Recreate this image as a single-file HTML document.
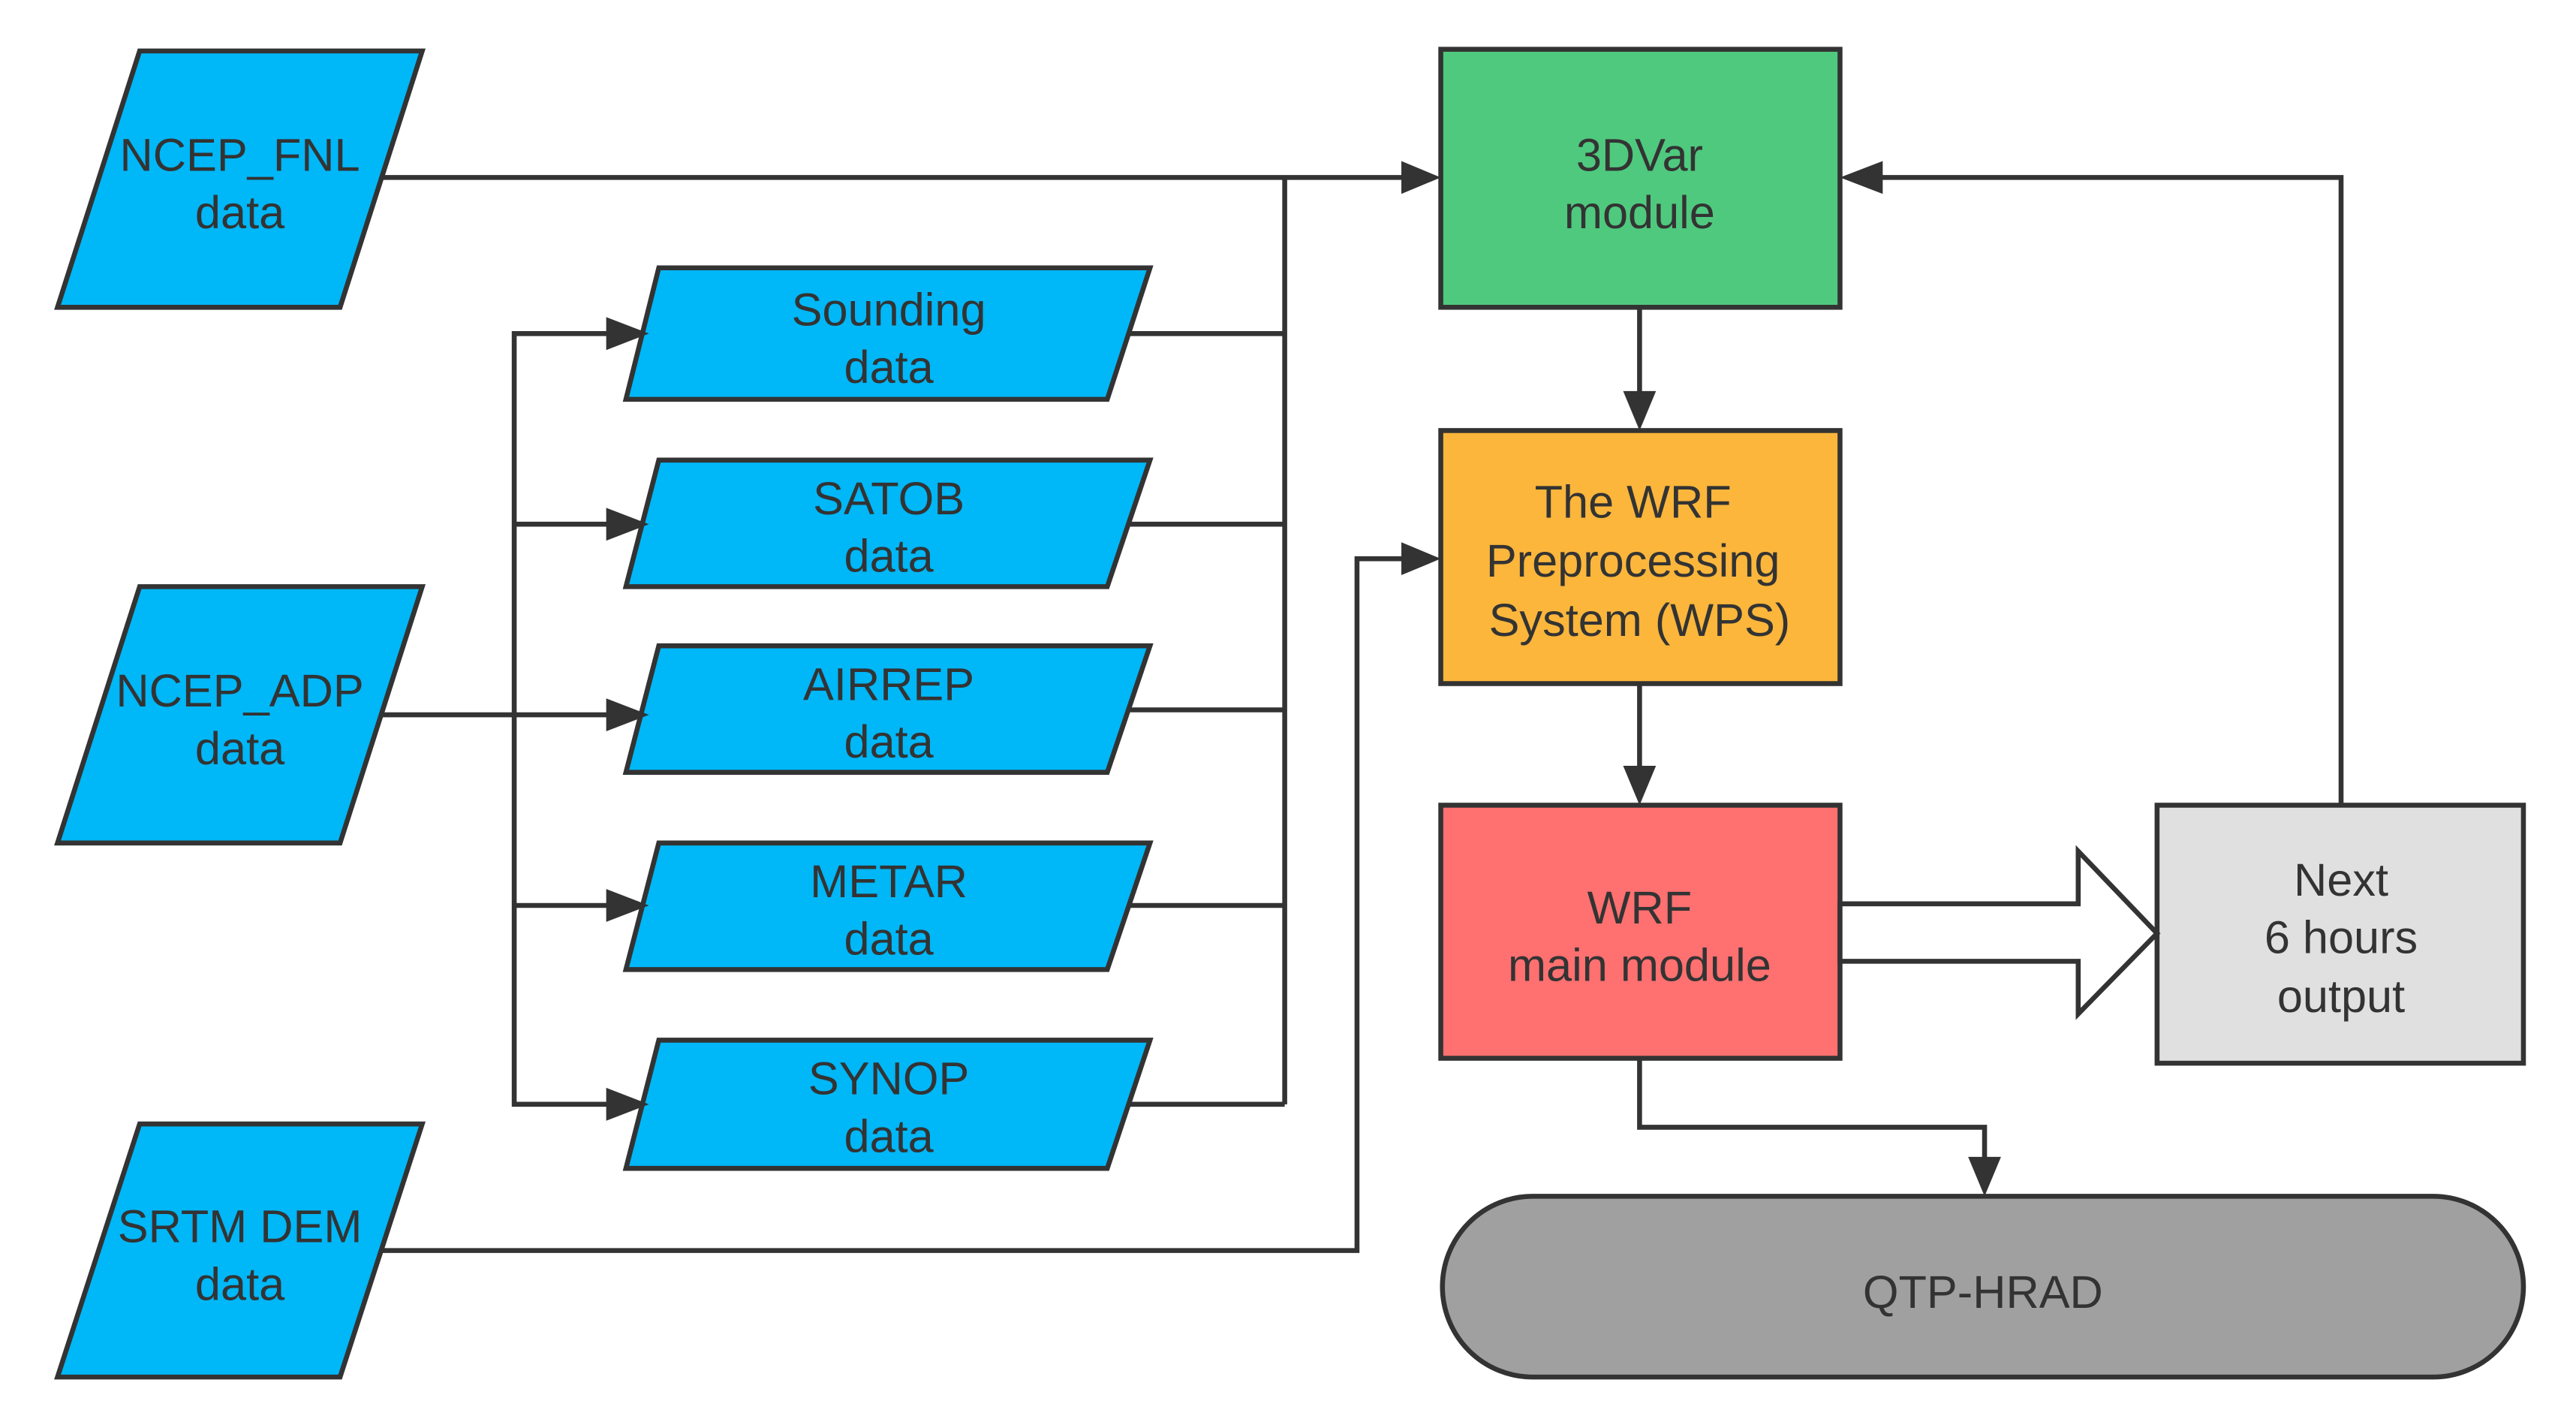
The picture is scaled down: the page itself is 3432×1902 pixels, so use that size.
<!DOCTYPE html>
<html><head><meta charset="utf-8"><style>
html,body{margin:0;padding:0;background:#fff;}
svg{display:block;}
text{font-family:"Liberation Sans","DejaVu Sans",sans-serif;font-size:28px;fill:#333;text-anchor:middle;}
</style></head><body>
<svg width="3432" height="1902" viewBox="0 0 1568 869" preserveAspectRatio="none" xmlns="http://www.w3.org/2000/svg">
<g stroke="#333" stroke-width="3" fill="none">
<polygon points="85,31 257,31 207,187 35,187" fill="#00b7f7"/>
<polygon points="85,357 257,357 207,513 35,513" fill="#00b7f7"/>
<polygon points="85,684 257,684 207,838 35,838" fill="#00b7f7"/>
<polygon points="401,163 700,163 674,243 381,243" fill="#00b7f7"/>
<polygon points="401,280 700,280 674,357 381,357" fill="#00b7f7"/>
<polygon points="401,393 700,393 674,470 381,470" fill="#00b7f7"/>
<polygon points="401,513 700,513 674,590 381,590" fill="#00b7f7"/>
<polygon points="401,633 700,633 674,711 381,711" fill="#00b7f7"/>
<polyline points="232,108 860,108"/>
<polyline points="232,435 375,435"/>
<polyline points="375,203 313,203 313,672 375,672"/>
<line x1="313" y1="319" x2="375" y2="319"/>
<line x1="313" y1="551" x2="375" y2="551"/>
<polyline points="688,203 782,203"/><polyline points="688,319 782,319"/><polyline points="688,432 782,432"/><polyline points="688,551 782,551"/><polyline points="688,672 782,672"/>
<line x1="782" y1="108" x2="782" y2="672"/>
<polyline points="232,761 826,761 826,340 860,340"/>
<line x1="998" y1="187" x2="998" y2="245"/>
<line x1="998" y1="416" x2="998" y2="473"/>
<polyline points="1425,490 1425,108 1138,108"/>
<polyline points="998,644 998,686 1208,686 1208,712"/>
<rect x="877" y="30" width="243" height="157" fill="#4fc97e"/>
<rect x="877" y="262" width="243" height="154" fill="#fbb63b"/>
<rect x="877" y="490" width="243" height="154" fill="#ff7070"/>
<rect x="1313" y="490" width="223" height="157" fill="#e0e0e0"/>
<rect x="878" y="728" width="658" height="110" rx="55" ry="55" fill="#a0a0a0"/>
<polygon points="1120,550 1265,550 1265,518 1313,568 1265,617 1265,585 1120,585" fill="#fff"/>
</g>
<g fill="#333" stroke="none">
<polygon points="877,108 853,98 853,118"/>
<polygon points="877,340 853,330 853,350"/>
<polygon points="395,203 369,193 369,213"/>
<polygon points="395,319 369,309 369,329"/>
<polygon points="395,435 369,425 369,445"/>
<polygon points="395,551 369,541 369,561"/>
<polygon points="395,672 369,662 369,682"/>
<polygon points="998,262 988,238 1008,238"/>
<polygon points="998,490 988,466 1008,466"/>
<polygon points="1120,108 1146,98 1146,118"/>
<polygon points="1208,728 1198,704 1218,704"/>
</g>
<text x="146" y="104">NCEP_FNL</text><text x="146" y="139">data</text>
<text x="146" y="430">NCEP_ADP</text><text x="146" y="465">data</text>
<text x="146" y="756">SRTM DEM</text><text x="146" y="791">data</text>
<text x="541" y="198">Sounding</text><text x="541" y="233">data</text>
<text x="541" y="313">SATOB</text><text x="541" y="348">data</text>
<text x="541" y="426">AIRREP</text><text x="541" y="461">data</text>
<text x="541" y="546">METAR</text><text x="541" y="581">data</text>
<text x="541" y="666">SYNOP</text><text x="541" y="701">data</text>
<text x="998" y="104">3DVar</text><text x="998" y="139">module</text>
<text x="994" y="315">The WRF</text><text x="994" y="351">Preprocessing</text><text x="998" y="387">System (WPS)</text>
<text x="998" y="562">WRF</text><text x="998" y="597">main module</text>
<text x="1425" y="545">Next</text><text x="1425" y="580">6 hours</text><text x="1425" y="616">output</text>
<text x="1207" y="796">QTP-HRAD</text>
</svg>
</body></html>
